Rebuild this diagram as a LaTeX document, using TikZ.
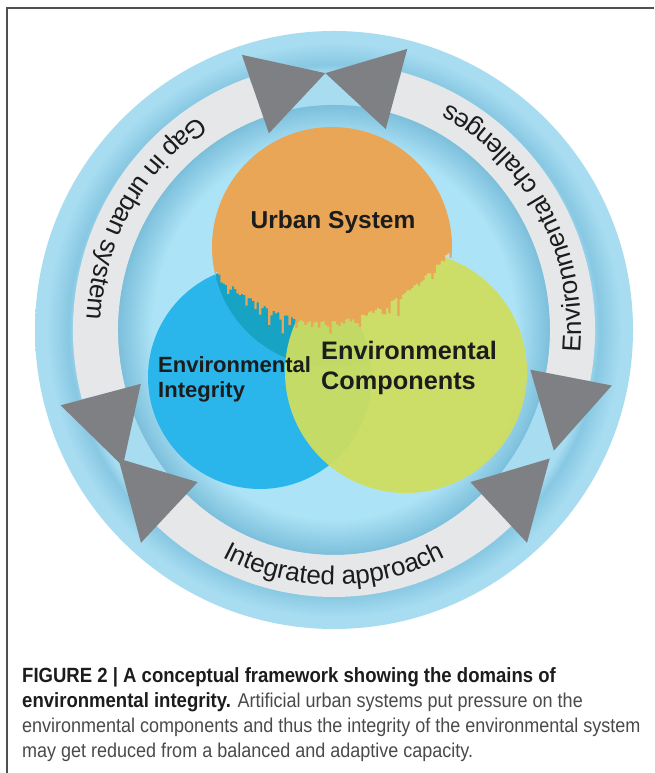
\documentclass[tikz,border=0pt]{standalone}
\usepackage{fontspec}
\setmainfont{Liberation Sans}
\newfontfamily\capfont[FakeStretch=0.9]{Liberation Sans}
\usetikzlibrary{decorations.text}

\definecolor{skylite}{HTML}{ADE3F6}
\definecolor{skydark}{HTML}{7CBFDB}
\definecolor{ringlite}{HTML}{A7DCF1}
\definecolor{ringdark}{HTML}{88C8E2}
\definecolor{urbanor}{HTML}{E8A656}
\definecolor{urbanteal}{HTML}{17A3C4}
\definecolor{integblue}{HTML}{2AB6EB}
\definecolor{compgreen}{HTML}{D0DE5E}
\definecolor{bandgray}{HTML}{E6E7E9}
\definecolor{tipgray}{HTML}{7F8083}
\definecolor{inkdark}{HTML}{1C1C1C}
\definecolor{capgray}{HTML}{4A4A4A}
\definecolor{framegray}{HTML}{505050}

% glow towards the gray ring, inside and outside
\pgfdeclareradialshading{innerglow}{\pgfpoint{0bp}{0bp}}{color(0bp)=(skylite); color(21bp)=(skylite); color(25bp)=(skydark); color(50bp)=(skydark)}
\pgfdeclareradialshading{outerglow}{\pgfpoint{0bp}{0bp}}{color(0bp)=(ringlite); color(21.4bp)=(ringlite); color(22.2bp)=(ringdark); color(24bp)=(ringlite); color(50bp)=(ringlite)}

\newcommand\ringfont{\fontsize{26}{30}\selectfont}
\newcommand\capbold[1]{{\fontsize{20.6}{24}\selectfont\bfseries\color{inkdark}#1}}

\begin{document}
\begin{tikzpicture}[x=1pt,y=1pt,
  band/.style={fill=bandgray},
  tip/.style={fill=tipgray},
  venn/.style={text=inkdark,inner sep=0pt,align=left},
  caption/.style={font=\capfont\fontsize{20}{24}\selectfont,text=capgray,inner sep=0pt,anchor=base west}]
  \useasboundingbox (0,0) rectangle (654,773);
  \fill[white] (0,0) rectangle (654,773);
  % rules on top and left
  \draw[framegray,line width=1.6pt] (7,0) -- (7,765) -- (654,765);

  \coordinate (hub) at (334,443);
  \shade[shading=outerglow] (hub) circle[radius=299];
  \shade[shading=innerglow] (hub) ellipse[x radius=216,y radius=225];

  % three double arrows round the ring
  \begin{scope}[shift={(hub)}]
    \foreach \c/\m/\txt in {152/150/Gap in urban system,32/29/Environmental challenges,-90/-90/Integrated approach}{
      \pgfmathsetmacro\lo{\c-43}
      \pgfmathsetmacro\hi{\c+43}
      \pgfmathsetmacro\tlo{\c-60}
      \pgfmathsetmacro\thi{\c+60}
      \pgfmathsetmacro\ts{\m-55}
      \pgfmathsetmacro\te{\m+55}
      \fill[band] (\lo:261 and 267) arc[start angle=\lo,end angle=\hi,x radius=261,y radius=267]
        -- (\hi:216 and 225) arc[start angle=\hi,end angle=\lo,x radius=216,y radius=225] -- cycle;
      \fill[tip] (\lo:200 and 208) -- (\lo:283 and 291) -- (\tlo:249 and 257) -- cycle;
      \fill[tip] (\hi:200 and 208) -- (\hi:283 and 291) -- (\thi:249 and 257) -- cycle;
      \path[decorate,decoration={text along path,text align=center,text color=inkdark,
          text/.expanded={|\noexpand\ringfont|\txt}}]
        (\ts:247 and 255) arc[start angle=\ts,end angle=\te,x radius=247,y radius=255];
    }
  \end{scope}

  % the three domains
  \coordinate (urbanc) at (332,526);
  \coordinate (integc) at (260,396);
  \coordinate (compc) at (406,401);
  \fill[integblue] (integc) circle[radius=112];
  \begin{scope}
    \clip (urbanc) circle[radius=120];
    \fill[urbanteal] (integc) circle[radius=112];
  \end{scope}
  \fill[compgreen,fill opacity=0.93] (compc) circle[radius=121];
  \begin{scope}
    \clip (urbanc) circle[radius=120];
    \pgfmathsetseed{42}
    \fill[urbanor] (190,660) -- (190,470)
      -- plot[const plot,domain=200:470,samples=120] (\x,{452+(0.066*(\x-322))^2-34*rnd*rnd*rnd})
      -- (470,470) -- (470,660) -- cycle;
  \end{scope}

  \node[venn,font=\bfseries\fontsize{24.5}{28}\selectfont] (urban) at (333,551) {Urban System};
  \node[venn,font=\bfseries\fontsize{22}{25}\selectfont,anchor=west] (integ) at (158,394) {Environmental\\Integrity};
  \node[venn,font=\bfseries\fontsize{25.3}{30}\selectfont,anchor=west] (comp) at (321,405) {Environmental\\Components};

  % caption
  \node[caption] (cap1) at (22,90) {\capbold{FIGURE 2 | A conceptual framework showing the domains of}};
  \node[caption] (cap2) at (22,65) {\capbold{environmental integrity.} Artificial urban systems put pressure on the};
  \node[caption] (cap3) at (22,40) {environmental components and thus the integrity of the environmental system};
  \node[caption] (cap4) at (22,15) {may get reduced from a balanced and adaptive capacity.};
\end{tikzpicture}
\end{document}
